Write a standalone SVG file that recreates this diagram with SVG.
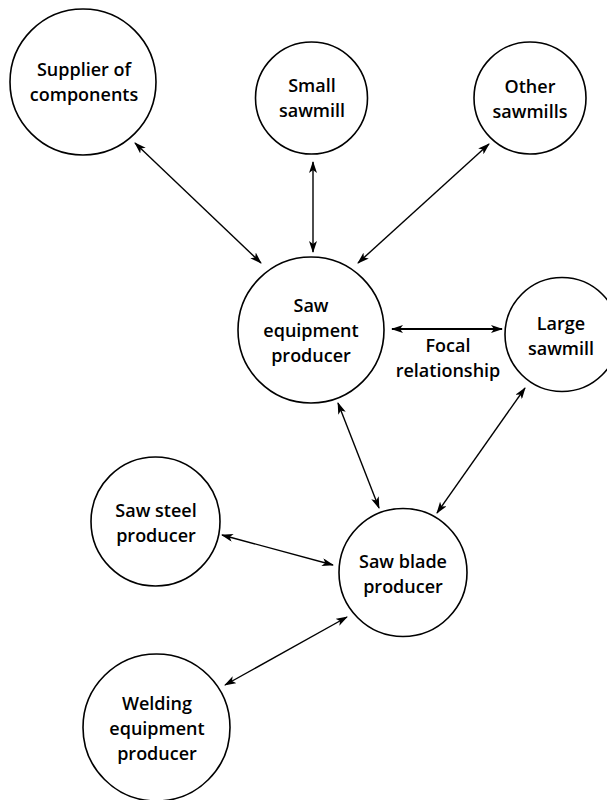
<svg xmlns="http://www.w3.org/2000/svg" width="607" height="800" viewBox="0 0 607 800">
<defs>
<marker id="ah" viewBox="0 0 12 8" refX="11" refY="4" markerWidth="12" markerHeight="8" markerUnits="userSpaceOnUse" orient="auto-start-reverse">
<path d="M0,0 L12,4 L0,8 L3,4 z" fill="#000"/>
</marker>
</defs>
<style>
.n{fill:#fff;stroke:#000;stroke-width:1.6}
.t{font-family:"Open Sans","Noto Sans","DejaVu Sans",sans-serif;font-size:18px;font-weight:600;fill:#000;text-anchor:middle}
.c{stroke:#000;stroke-width:1.4;fill:none;marker-start:url(#ah);marker-end:url(#ah)}
.f{stroke-width:2.2}
</style>
<rect width="607" height="800" fill="#fff"/>
<g id="connectors">
<line class="c" x1="135" y1="143" x2="261" y2="263"/>
<line class="c" x1="313" y1="162" x2="313" y2="252"/>
<line class="c" x1="489" y1="144" x2="358" y2="263"/>
<line class="c f" x1="392" y1="329" x2="502" y2="329"/>
<line class="c" x1="338" y1="403" x2="379" y2="508"/>
<line class="c" x1="525" y1="388" x2="437" y2="513"/>
<line class="c" x1="222" y1="535" x2="333" y2="565"/>
<line class="c" x1="225" y1="685" x2="347" y2="617"/>
</g>
<g id="focal-label">
<text class="t" x="448" y="352" font-weight="400">Focal</text>
<text class="t" x="448" y="377" font-weight="400">relationship</text>
</g>
<g id="supplier">
<circle class="n" cx="83" cy="82" r="73"/>
<text class="t" x="84" y="76">Supplier of</text>
<text class="t" x="84" y="101">components</text>
</g>
<g id="small-sawmill">
<circle class="n" cx="311.5" cy="98" r="56"/>
<text class="t" x="312" y="92">Small</text>
<text class="t" x="312" y="117">sawmill</text>
</g>
<g id="other-sawmills">
<circle class="n" cx="530" cy="98" r="56"/>
<text class="t" x="530" y="93">Other</text>
<text class="t" x="530" y="118">sawmills</text>
</g>
<g id="saw-equipment">
<circle class="n" cx="311" cy="330" r="73"/>
<text class="t" x="311" y="312">Saw</text>
<text class="t" x="311" y="337">equipment</text>
<text class="t" x="311" y="362">producer</text>
</g>
<g id="large-sawmill">
<circle class="n" cx="562" cy="334.5" r="57"/>
<text class="t" x="561" y="330">Large</text>
<text class="t" x="561" y="355">sawmill</text>
</g>
<g id="saw-steel">
<circle class="n" cx="155.5" cy="521.5" r="64.5"/>
<text class="t" x="156" y="517">Saw steel</text>
<text class="t" x="156" y="542">producer</text>
</g>
<g id="saw-blade">
<circle class="n" cx="403" cy="572.5" r="64"/>
<text class="t" x="403" y="568">Saw blade</text>
<text class="t" x="403" y="593">producer</text>
</g>
<g id="welding">
<circle class="n" cx="156.5" cy="727.5" r="73.5"/>
<text class="t" x="157" y="710">Welding</text>
<text class="t" x="157" y="735">equipment</text>
<text class="t" x="157" y="760">producer</text>
</g>
</svg>
